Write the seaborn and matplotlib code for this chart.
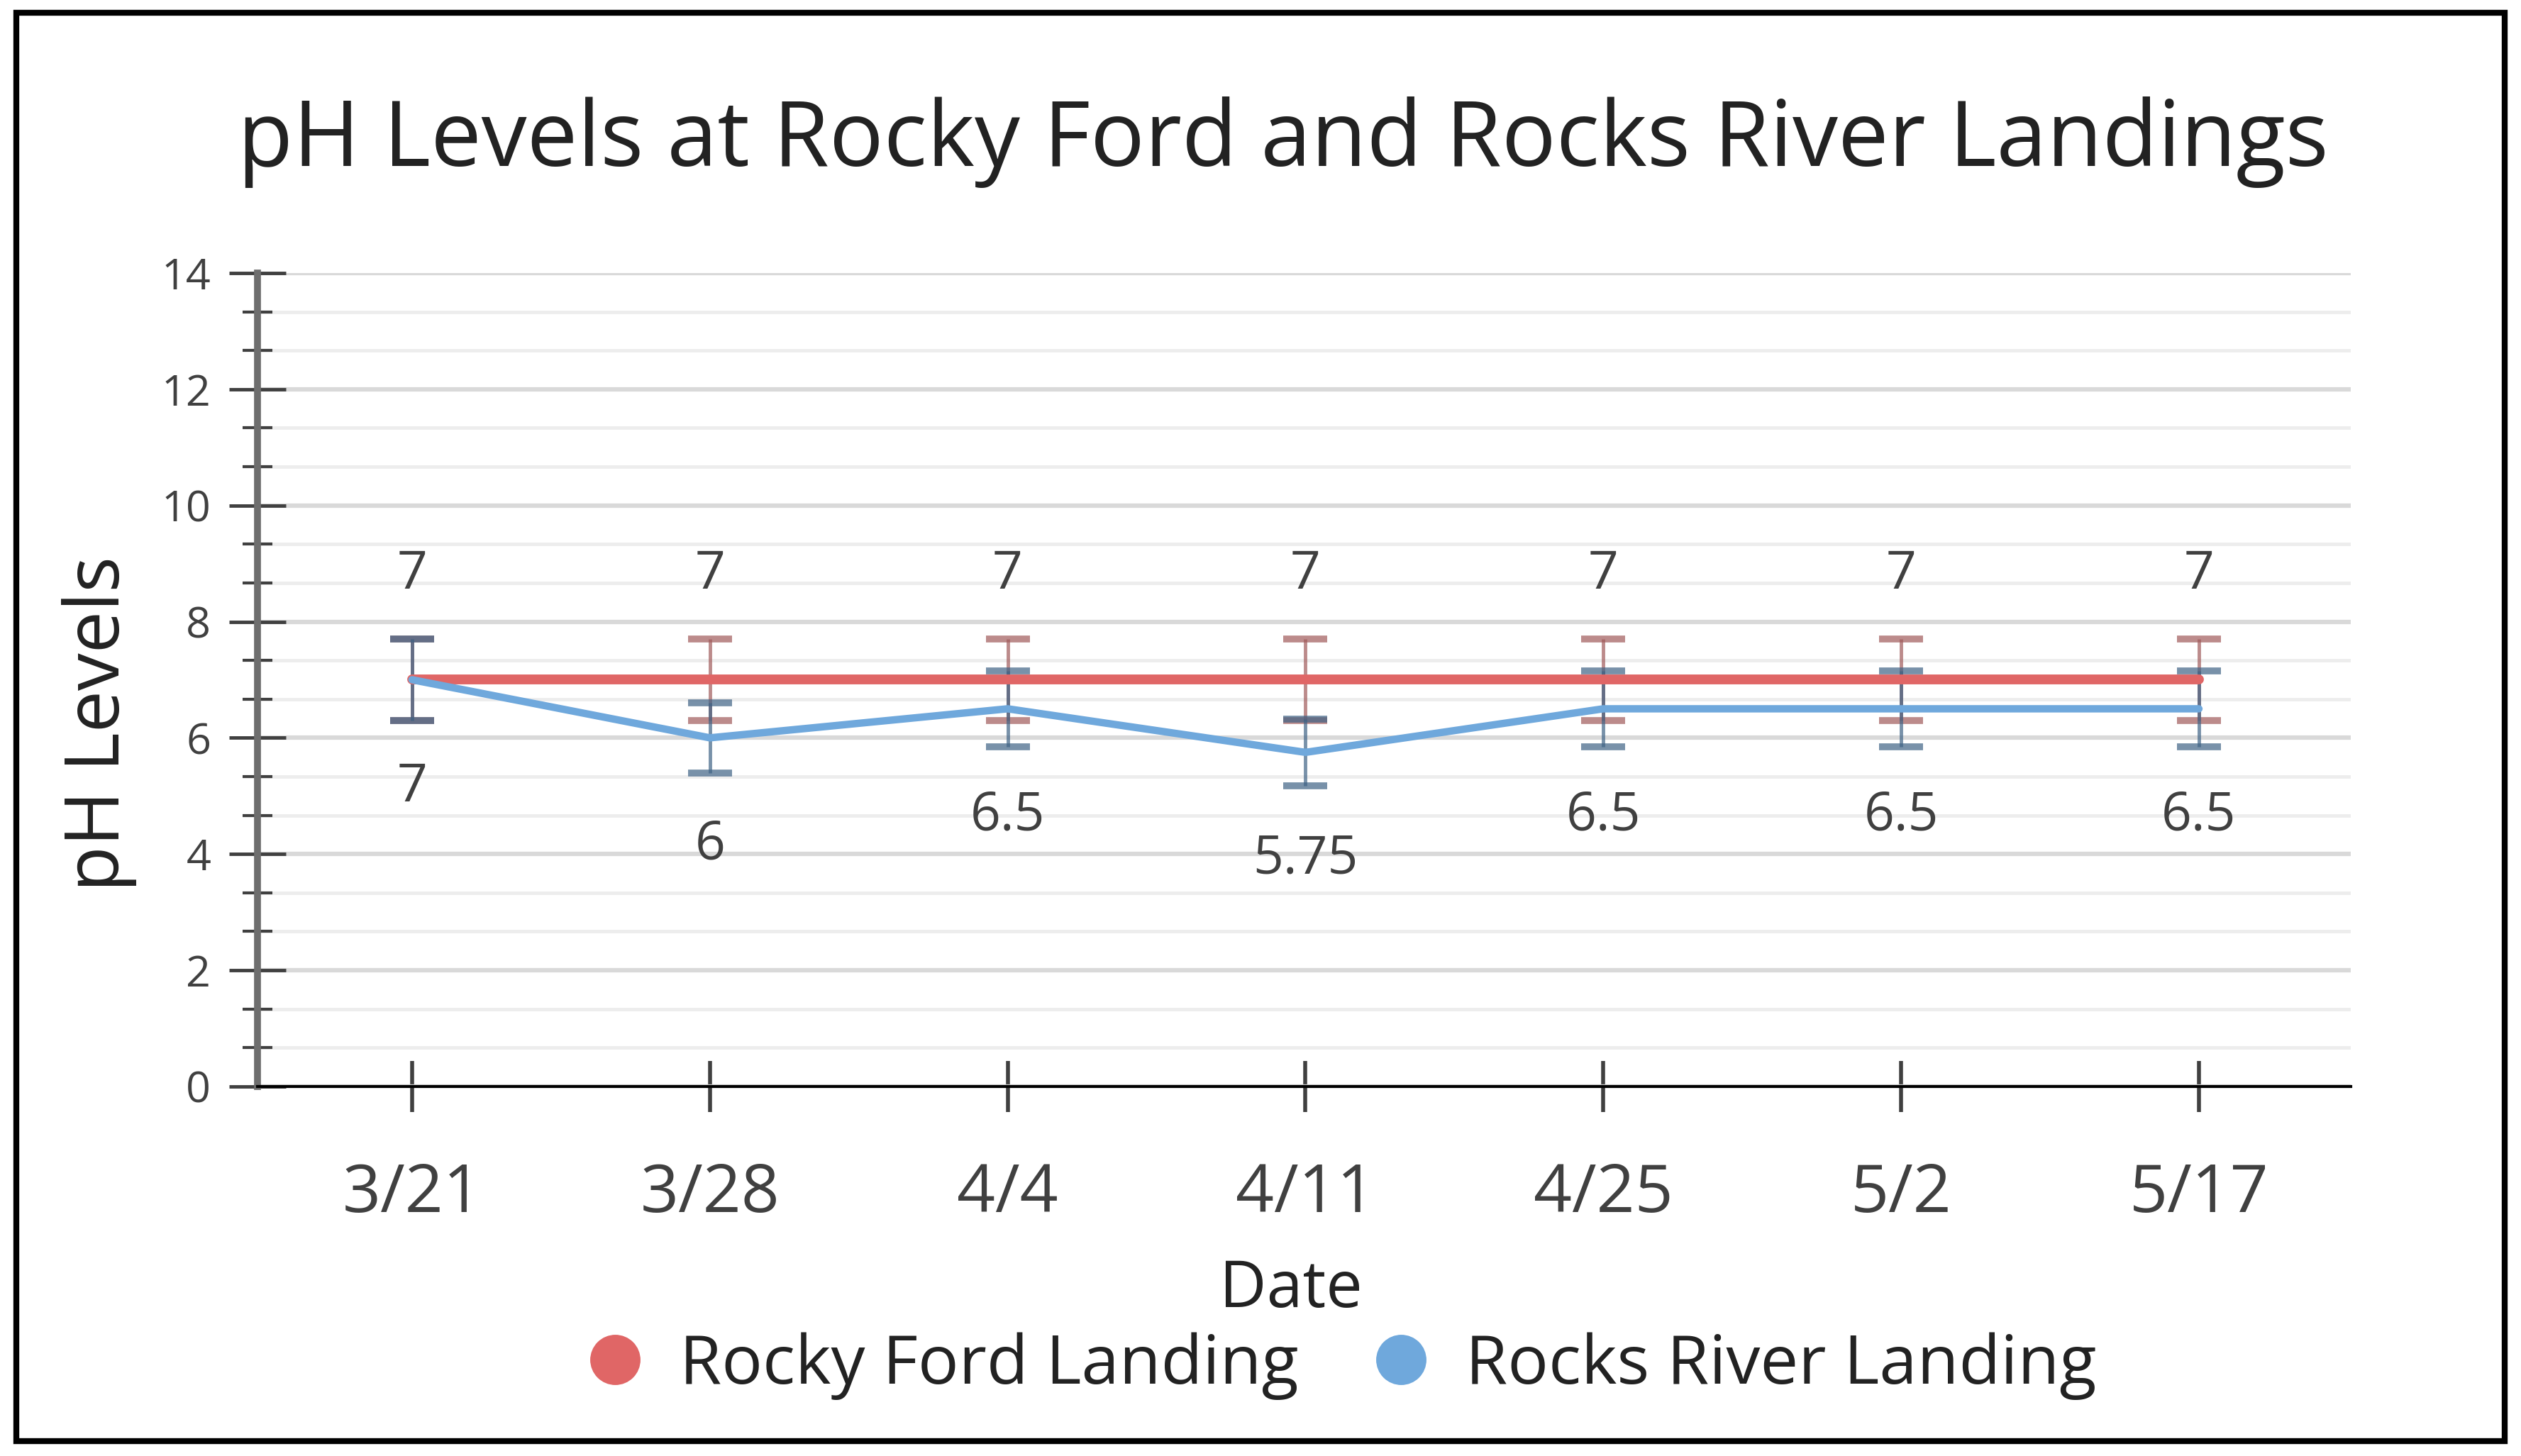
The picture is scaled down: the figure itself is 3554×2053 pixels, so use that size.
import matplotlib
matplotlib.use("Agg")
import matplotlib.pyplot as plt
from matplotlib import font_manager
from matplotlib.lines import Line2D
from matplotlib.patches import Rectangle
from matplotlib.ticker import MultipleLocator
import pandas as pd
import seaborn as sns

dates = ["3/21", "3/28", "4/4", "4/11", "4/25", "5/2", "5/17"]
rocky_ford = [7, 7, 7, 7, 7, 7, 7]
rocks_river = [7, 6, 6.5, 5.75, 6.5, 6.5, 6.5]
err_pct = 0.10  # 10% error bars
series_names = ["Rocky Ford Landing", "Rocks River Landing"]

RED = "#E06666"
BLUE = "#6FA8DC"

sns.set_theme(style="white")
available = {f.name for f in font_manager.fontManager.ttflist}
family = [f for f in ["Liberation Sans Narrow", "Open Sans", "DejaVu Sans"] if f in available]
plt.rcParams["font.family"] = family

df = pd.DataFrame({
    "pos": list(range(len(dates))) * 2,
    "ph": rocky_ford + rocks_river,
    "site": [series_names[0]] * len(dates) + [series_names[1]] * len(dates),
})

fig = plt.figure(figsize=(35.54, 20.53), dpi=100)
ax = fig.add_axes([0.102, 0.2538, 0.8305, 0.5587])

# gridlines
ax.yaxis.set_major_locator(MultipleLocator(2))
ax.yaxis.set_minor_locator(MultipleLocator(2 / 3))
ax.grid(which="major", axis="y", color="#d9d9d9", lw=4.5, zorder=0)
ax.grid(which="minor", axis="y", color="#ededed", lw=3.5, zorder=0)
ax.set_axisbelow(True)

# error bars
for vals, ecol in [(rocky_ford, "#a05a5a"), (rocks_river, "#3f6385")]:
    ax.errorbar(range(len(dates)), vals, yerr=[v * err_pct for v in vals],
                fmt="none", ecolor=ecol, alpha=0.7, elinewidth=3.5,
                capsize=22, capthick=7, zorder=2)

sns.lineplot(data=df, x="pos", y="ph", hue="site", palette=[RED, BLUE],
             ax=ax, legend=False, zorder=3)
ax.lines[-2].set_linewidth(10)
ax.lines[-1].set_linewidth(7.5)

# data labels
for i, v in enumerate(rocky_ford):
    ax.text(i, v + 1.8, f"{v:g}", ha="center", va="center", fontsize=54, color="#404040")
for i, v in enumerate(rocks_river):
    ax.text(i, v - 1.85, f"{v:g}", ha="center", va="center", fontsize=54, color="#404040")

ax.set_xlim(-0.52, 6.51)
ax.set_ylim(0, 14)
ax.set_xticks(range(len(dates)))
ax.set_xticklabels(dates)
ax.set_xlabel("")
ax.set_ylabel("")

for s in ["top", "right"]:
    ax.spines[s].set_visible(False)
ax.spines["bottom"].set_color("black")
ax.spines["bottom"].set_linewidth(3)
ax.spines["left"].set_color("#6e6e6e")
ax.spines["left"].set_linewidth(7)

ax.tick_params(axis="x", which="major", direction="inout", length=52, width=4,
               color="#404040", labelsize=68, labelcolor="#404040", pad=50, bottom=True)
ax.tick_params(axis="y", which="major", direction="inout", length=58, width=3.5,
               color="#404040", labelsize=44, labelcolor="#404040", pad=18, left=True)
ax.tick_params(axis="y", which="minor", direction="inout", length=30, width=3,
               color="#404040", left=True)

# titles
fig.text(0.509, 0.886, "pH Levels at Rocky Ford and Rocks River Landings",
         ha="center", va="baseline", fontsize=92, color="#222222")
fig.text(0.0395, 0.503, "pH Levels", rotation=90, ha="center", va="center",
         fontsize=76, color="#222222")
fig.text(0.512, 0.1137, "Date", ha="center", va="center", fontsize=66, color="#222222")

handles = [Line2D([], [], marker="o", ls="none", color=c, markersize=50) for c in [RED, BLUE]]
fig.legend(handles, series_names, loc="center", bbox_to_anchor=(0.5297, 0.0618), ncol=2,
           frameon=False, fontsize=69, handletextpad=0.35, columnspacing=0.9,
           handlelength=1.2, labelcolor="#222222")

# outer border
fig.patches.append(Rectangle((0.0065, 0.01), 0.987, 0.981, transform=fig.transFigure,
                             fill=False, edgecolor="black", lw=6))

fig.savefig("out.png", dpi=100)
